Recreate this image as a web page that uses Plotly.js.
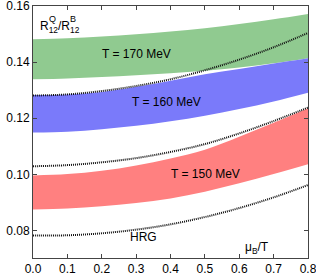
<!DOCTYPE html>
<html><head><meta charset="utf-8">
<script src="https://cdn.plot.ly/plotly-3.0.1.min.js"></script>
<style>html,body{margin:0;padding:0;background:#fff}#chart{width:316px;height:277px}</style>
</head><body><div id="chart"></div>
<script>
const muB = [0.0, 0.1, 0.2, 0.3, 0.4, 0.5, 0.6, 0.7, 0.8];
const t170Upper = [0.1482, 0.1485, 0.1491, 0.1499, 0.1509, 0.1521, 0.1536, 0.1553, 0.1572];
const t170Lower = [0.1339, 0.1342, 0.1347, 0.1353, 0.1360, 0.1369, 0.1381, 0.1396, 0.1414];
const t160Upper = [0.1283, 0.1285, 0.1294, 0.1312, 0.1334, 0.1357, 0.1376, 0.1395, 0.1414];
const t160Lower = [0.1149, 0.1152, 0.1161, 0.1173, 0.1189, 0.1209, 0.1233, 0.1260, 0.1291];
const t150Upper = [0.0996, 0.1001, 0.1013, 0.1032, 0.1057, 0.1088, 0.1134, 0.1184, 0.1236];
const t150Lower = [0.0875, 0.0878, 0.0886, 0.0898, 0.0914, 0.0938, 0.0968, 0.1001, 0.1036];
const dottedUpper = [0.1281, 0.1285, 0.1297, 0.1315, 0.1339, 0.1371, 0.1409, 0.1453, 0.1504];
const dottedMiddle = [0.1029, 0.1033, 0.1043, 0.1058, 0.1080, 0.1108, 0.1146, 0.1190, 0.1238];
const hrg = [0.0782, 0.0783, 0.0790, 0.0803, 0.0822, 0.0848, 0.0880, 0.0918, 0.0962];
const xTicks = [0.0, 0.1, 0.2, 0.3, 0.4, 0.5, 0.6, 0.7, 0.8];
const yTicks = [0.08, 0.10, 0.12, 0.14, 0.16];

const FONT = 'Liberation Sans, Arial, Helvetica, sans-serif';

function band(lower, upper, color) {
  return [
    {x: muB, y: lower, mode: 'lines', line: {width: 0, shape: 'spline'}, hoverinfo: 'skip', showlegend: false},
    {x: muB, y: upper, mode: 'lines', line: {width: 0, shape: 'spline'}, fill: 'tonexty', fillcolor: color, hoverinfo: 'skip', showlegend: false}
  ];
}
function dotted(vals) {
  return {x: muB, y: vals, mode: 'lines', line: {color: '#111', width: 2, dash: '1px,1px', shape: 'spline'}, showlegend: false};
}

const data = [
  ...band(t170Lower, t170Upper, 'rgb(144,202,144)'),
  ...band(t160Lower, t160Upper, 'rgb(122,122,250)'),
  ...band(t150Lower, t150Upper, 'rgb(255,128,128)'),
  dotted(dottedUpper), dotted(dottedMiddle), dotted(hrg)
];

const axisCommon = {
  showgrid: false, zeroline: false, showline: true, linecolor: '#444', linewidth: 1,
  mirror: 'ticks', ticks: 'inside', ticklen: 4, tickcolor: '#444',
  ticklabeloverflow: 'allow',
  tickfont: {family: FONT, size: 12, color: '#000'}
};

const layout = {
  width: 316, height: 277,
  margin: {l: 33, r: 8, t: 6, b: 19},
  paper_bgcolor: '#fff', plot_bgcolor: '#fff',
  font: {family: FONT, size: 12, color: '#000'},
  xaxis: Object.assign({}, axisCommon, {range: [-0.00001, 0.80001], tickvals: xTicks, ticktext: xTicks.map(v => v.toFixed(1))}),
  yaxis: Object.assign({}, axisCommon, {range: [0.0702, 0.16001], tickvals: yTicks, ticktext: yTicks.map(v => v.toFixed(2))}),
  annotations: [
    {x: 0.3017, y: 0.1429, text: 'T = 170 MeV', showarrow: false, font: {size: 12}},
    {x: 0.389, y: 0.1259, text: 'T = 160 MeV', showarrow: false, font: {size: 12}},
    {x: 0.501, y: 0.1000, text: 'T = 150 MeV', showarrow: false, font: {size: 12}},
    {x: 0.321, y: 0.0777, text: 'HRG', showarrow: false, font: {size: 12}},
    {x: 0.653, y: 0.0739, text: 'μ<sub>B</sub>/T', showarrow: false, font: {size: 12}},
    {x: 0.014, y: 0.1525, xanchor: 'left', text: 'R<sub>12</sub>/R<sub>12</sub>', showarrow: false, font: {size: 12}},
    {x: 0.0405, y: 0.1555, xanchor: 'left', text: 'Q', showarrow: false, font: {size: 9}},
    {x: 0.1005, y: 0.1555, xanchor: 'left', text: 'B', showarrow: false, font: {size: 9}}
  ]
};

Plotly.newPlot('chart', data, layout, {displayModeBar: false, staticPlot: true});
</script>
</body></html>
